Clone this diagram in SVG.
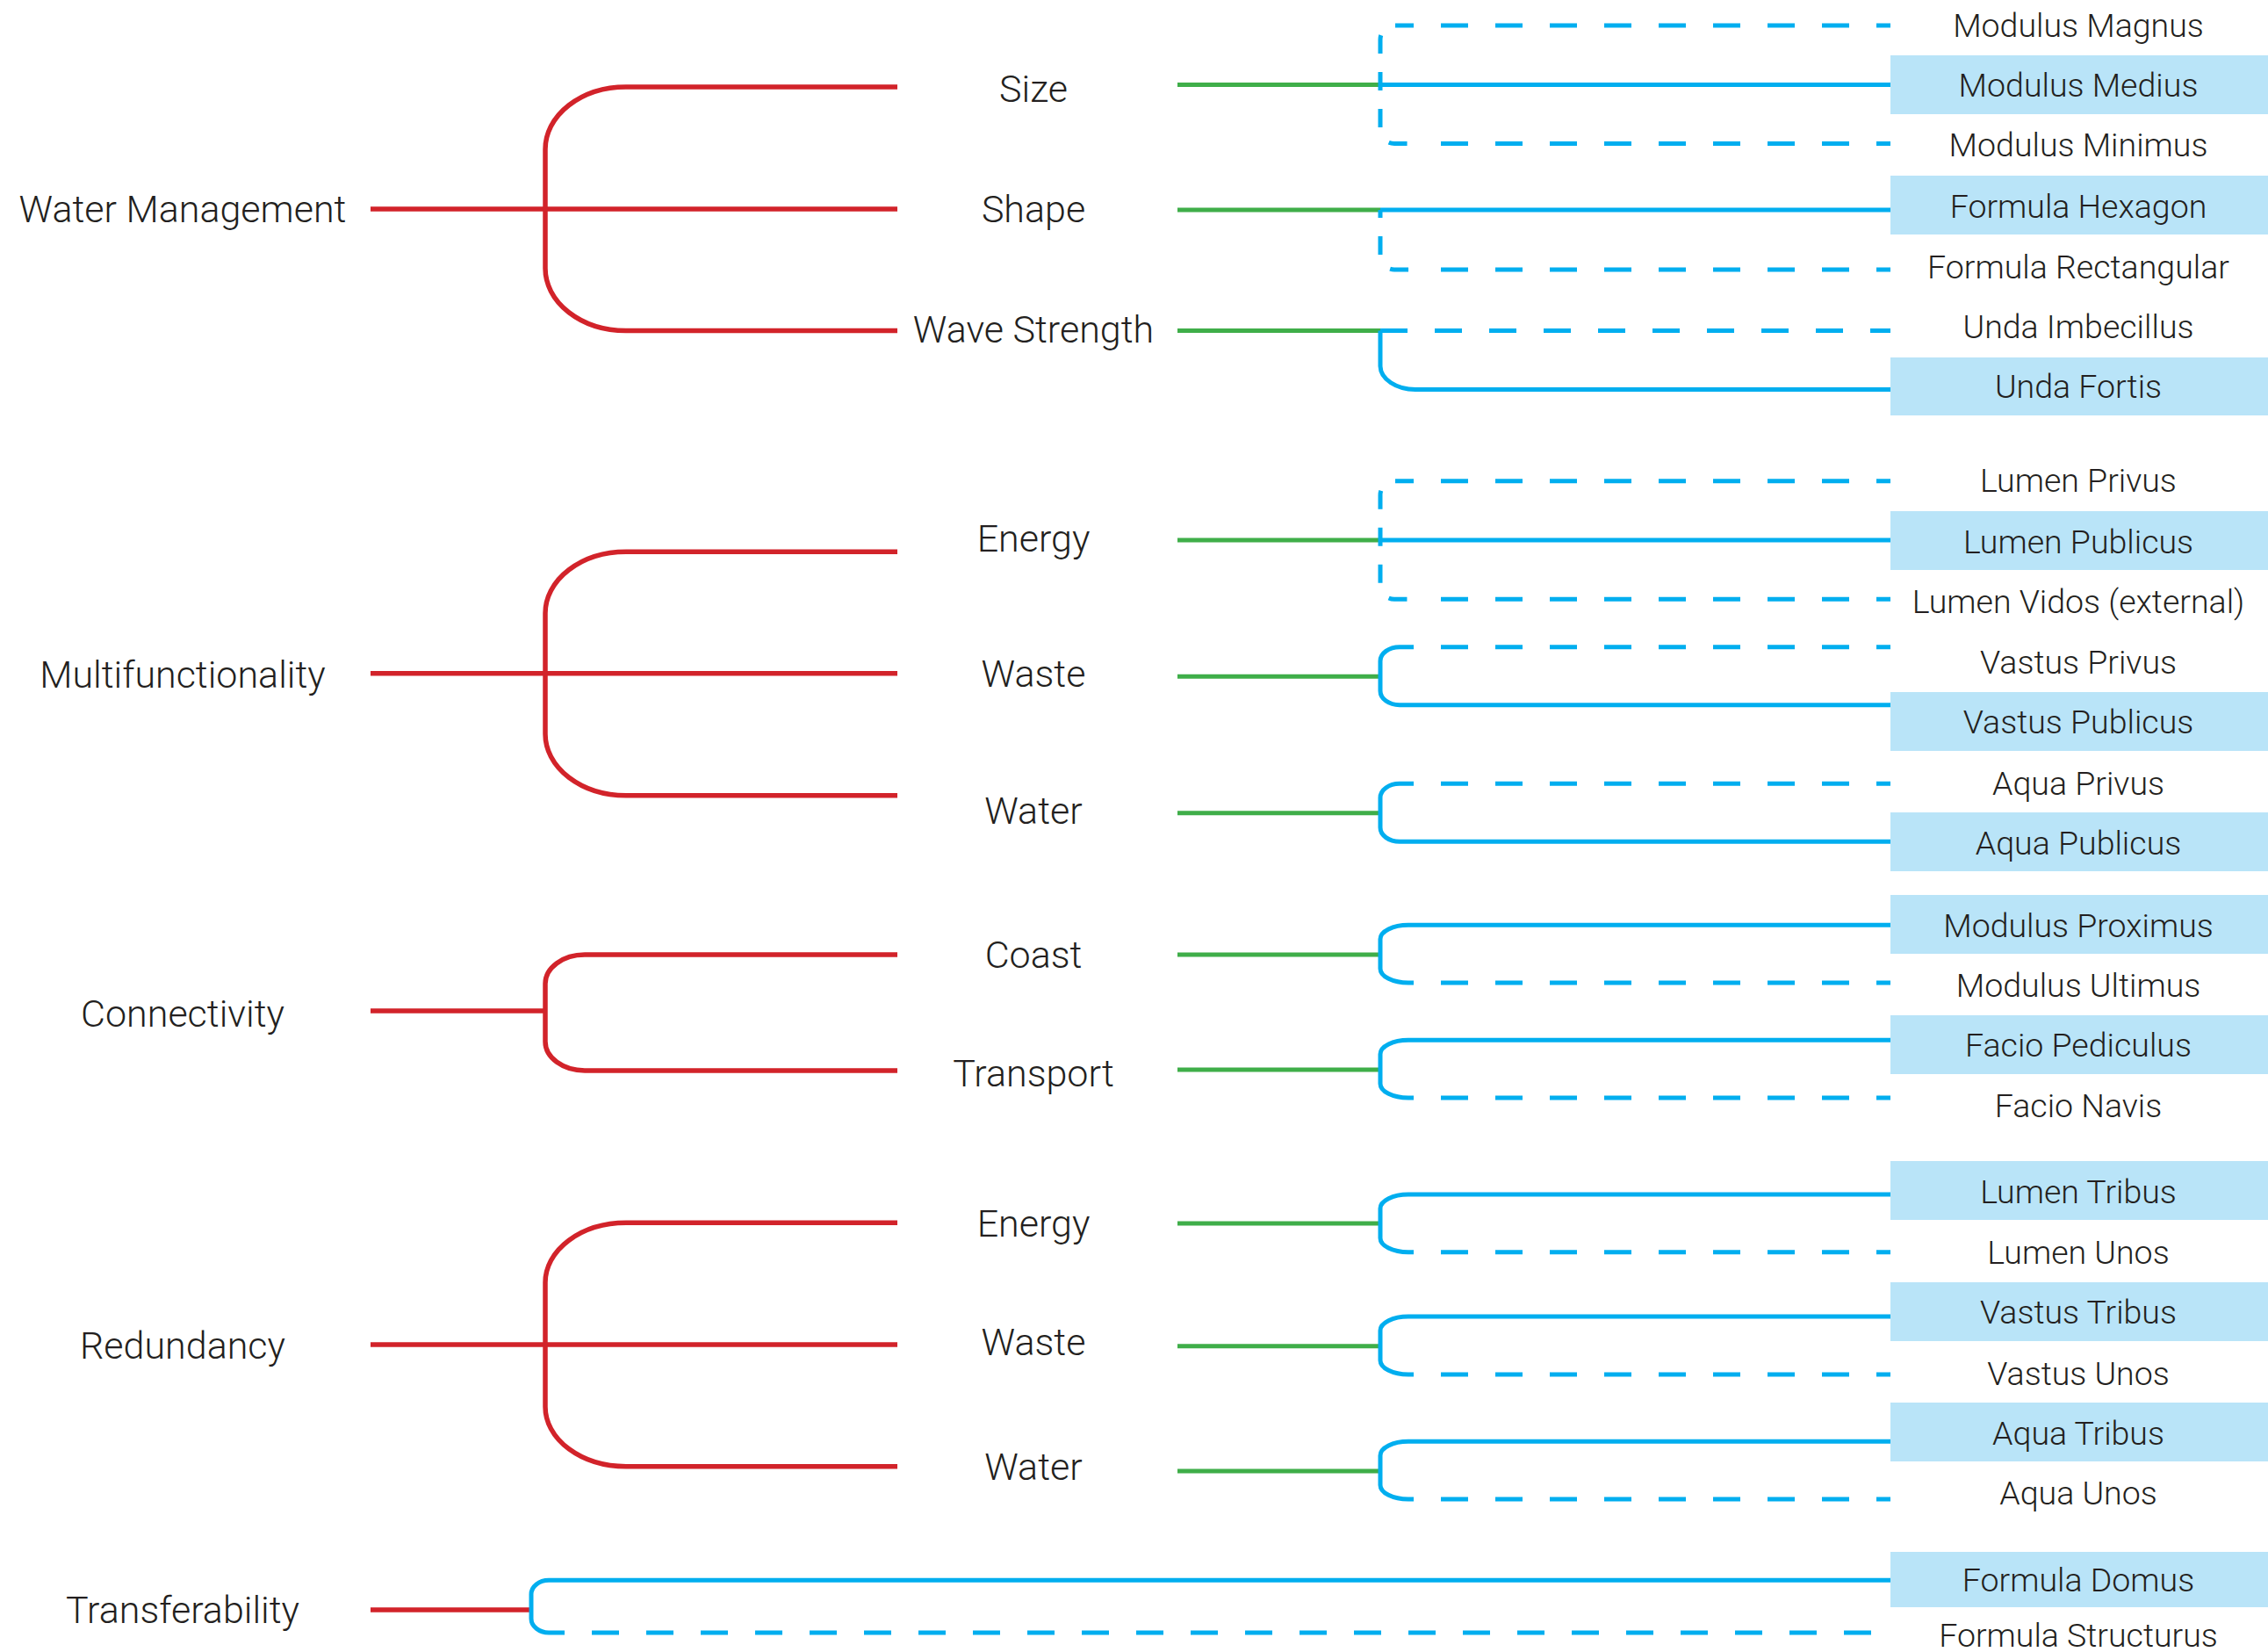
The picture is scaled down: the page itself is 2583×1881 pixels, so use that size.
<svg xmlns="http://www.w3.org/2000/svg" width="2583" height="1881" viewBox="0 0 2583 1881">
<style>
text{font-family:Roboto,"Liberation Sans",sans-serif;font-weight:300;fill:#231f20;text-anchor:middle}
.l1,.l2{font-size:43px}
.l3{font-size:37.5px}
.box{fill:#b9e4f8}
.red{fill:none;stroke:#d2232a;stroke-width:5.5}
.grn{fill:none;stroke:#3fae49;stroke-width:5}
.blu{fill:none;stroke:#00aeef;stroke-width:5}
.dsh{fill:none;stroke:#00aeef;stroke-width:5;stroke-dasharray:31 31;stroke-dashoffset:31}
.dv{fill:none;stroke:#00aeef;stroke-width:5;stroke-dasharray:21 21}
</style>
<rect width="2583" height="1881" fill="#ffffff"/>
<g id="connectors">
<!-- red -->
<path class="red" d="M422,238 H1022"/>
<path class="red" d="M1022,99 H713 A92,71 0 0 0 621,170 V305.5 A92,71 0 0 0 713,376.5 H1022"/>
<path class="red" d="M422,766.7 H1022"/>
<path class="red" d="M1022,628.3 H713 A92,70 0 0 0 621,698.3 V835.7 A92,70 0 0 0 713,905.7 H1022"/>
<path class="red" d="M422,1151 H621"/>
<path class="red" d="M1022,1087 H666 A45,33 0 0 0 621,1120 V1186 A45,33 0 0 0 666,1219 H1022"/>
<path class="red" d="M422,1531 H1022"/>
<path class="red" d="M1022,1392.3 H713 A92,68 0 0 0 621,1460.3 V1601.7 A92,68 0 0 0 713,1669.7 H1022"/>
<path class="red" d="M422,1833 H605"/>
<!-- green -->
<path class="grn" d="M1341,96.5 H1572"/>
<path class="grn" d="M1341,239 H1572"/>
<path class="grn" d="M1341,376.5 H1572"/>
<path class="grn" d="M1341,615 H1572"/>
<path class="grn" d="M1341,770.3 H1572"/>
<path class="grn" d="M1341,925.7 H1572"/>
<path class="grn" d="M1341,1087 H1572"/>
<path class="grn" d="M1341,1218 H1572"/>
<path class="grn" d="M1341,1393 H1572"/>
<path class="grn" d="M1341,1532.7 H1572"/>
<path class="grn" d="M1341,1675 H1572"/>
<!-- Size -->
<path class="dv" d="M1610,29 H1588 A16,16 0 0 0 1572,45 V147.5 A16,16 0 0 0 1588,163.5 H1610"/>
<path class="dsh" d="M1610,29 H2153"/>
<path class="blu" d="M1572,96.5 H2153"/>
<path class="dsh" d="M1610,163.5 H2153"/>
<!-- Shape -->
<path class="blu" d="M1572,239 H2153"/>
<path class="dv" style="stroke-dashoffset:12" d="M1572,239 V291 A16,16 0 0 0 1588,307 H1610"/>
<path class="dsh" d="M1610,307 H2153"/>
<!-- Wave Strength -->
<path class="dsh" style="stroke-dashoffset:0" d="M1572,376.5 H2153"/>
<path class="blu" d="M1572,376.5 V417 A40,27 0 0 0 1612,443.5 H2153"/>
<!-- Energy -->
<path class="dv" d="M1610,547.7 H1588 A16,16 0 0 0 1572,563.7 V666.3 A16,16 0 0 0 1588,682.3 H1610"/>
<path class="dsh" d="M1610,547.7 H2153"/>
<path class="blu" d="M1572,615 H2153"/>
<path class="dsh" d="M1610,682.3 H2153"/>
<!-- Waste -->
<path class="blu" d="M1610,736.7 H1594 A22,16 0 0 0 1572,752.7 V786.7 A22,16 0 0 0 1594,802.7 H2153"/>
<path class="dsh" d="M1610,736.7 H2153"/>
<!-- Water -->
<path class="blu" d="M1610,892.3 H1594 A22,16 0 0 0 1572,908.3 V942.3 A22,16 0 0 0 1594,958.3 H2153"/>
<path class="dsh" d="M1610,892.3 H2153"/>
<!-- Coast -->
<path class="blu" d="M2153,1053.3 H1604 A32,16 0 0 0 1572,1069.3 V1103 A32,16 0 0 0 1604,1119 H1610"/>
<path class="dsh" d="M1610,1119 H2153"/>
<!-- Transport -->
<path class="blu" d="M2153,1184.3 H1604 A32,16 0 0 0 1572,1200.3 V1234 A32,16 0 0 0 1604,1250 H1610"/>
<path class="dsh" d="M1610,1250 H2153"/>
<!-- Energy 2 -->
<path class="blu" d="M2153,1360 H1604 A32,16 0 0 0 1572,1376 V1409.7 A32,16 0 0 0 1604,1425.7 H1610"/>
<path class="dsh" d="M1610,1425.7 H2153"/>
<!-- Waste 2 -->
<path class="blu" d="M2153,1499 H1604 A32,16 0 0 0 1572,1515 V1549 A32,16 0 0 0 1604,1565 H1610"/>
<path class="dsh" d="M1610,1565 H2153"/>
<!-- Water 2 -->
<path class="blu" d="M2153,1641.3 H1604 A32,16 0 0 0 1572,1657.3 V1691 A32,16 0 0 0 1604,1707 H1610"/>
<path class="dsh" d="M1610,1707 H2153"/>
<!-- Transferability -->
<path class="blu" d="M2153,1799.3 H625 A20,16 0 0 0 605,1815.3 V1843 A20,16 0 0 0 625,1859 H643"/>
<path class="dsh" d="M643,1859 H2153"/>
</g>
<g id="n-water-management"><text class="l1" x="208" y="253">Water Management</text></g>
<g id="n-multifunctionality"><text class="l1" x="208" y="783">Multifunctionality</text></g>
<g id="n-connectivity"><text class="l1" x="208" y="1169">Connectivity</text></g>
<g id="n-redundancy"><text class="l1" x="208" y="1547">Redundancy</text></g>
<g id="n-transferability"><text class="l1" x="208" y="1848">Transferability</text></g>
<g id="n-size"><text class="l2" x="1177" y="115.5">Size</text></g>
<g id="n-shape"><text class="l2" x="1177" y="253">Shape</text></g>
<g id="n-wave-strength"><text class="l2" x="1177" y="390">Wave Strength</text></g>
<g id="n-energy-1"><text class="l2" x="1177" y="628">Energy</text></g>
<g id="n-waste-1"><text class="l2" x="1177" y="782">Waste</text></g>
<g id="n-water-1"><text class="l2" x="1177" y="937.5">Water</text></g>
<g id="n-coast"><text class="l2" x="1177" y="1101.5">Coast</text></g>
<g id="n-transport"><text class="l2" x="1177" y="1237">Transport</text></g>
<g id="n-energy-2"><text class="l2" x="1177" y="1408">Energy</text></g>
<g id="n-waste-2"><text class="l2" x="1177" y="1543">Waste</text></g>
<g id="n-water-2"><text class="l2" x="1177" y="1685">Water</text></g>
<g id="n-modulus-magnus"><text class="l3" x="2367" y="41.7">Modulus Magnus</text></g>
<g id="n-modulus-medius"><rect class="box" x="2153" y="63" width="430" height="67"/><text class="l3" x="2367" y="110">Modulus Medius</text></g>
<g id="n-modulus-minimus"><text class="l3" x="2367" y="178">Modulus Minimus</text></g>
<g id="n-formula-hexagon"><rect class="box" x="2153" y="200" width="430" height="67"/><text class="l3" x="2367" y="248">Formula Hexagon</text></g>
<g id="n-formula-rectangular"><text class="l3" x="2367" y="317">Formula Rectangular</text></g>
<g id="n-unda-imbecillus"><text class="l3" x="2367" y="385">Unda Imbecillus</text></g>
<g id="n-unda-fortis"><rect class="box" x="2153" y="407" width="430" height="66"/><text class="l3" x="2367" y="453">Unda Fortis</text></g>
<g id="n-lumen-privus"><text class="l3" x="2367" y="560">Lumen Privus</text></g>
<g id="n-lumen-publicus"><rect class="box" x="2153" y="582" width="430" height="67"/><text class="l3" x="2367" y="630">Lumen Publicus</text></g>
<g id="n-lumen-vidos"><text class="l3" x="2367" y="698">Lumen Vidos (external)</text></g>
<g id="n-vastus-privus"><text class="l3" x="2367" y="767">Vastus Privus</text></g>
<g id="n-vastus-publicus"><rect class="box" x="2153" y="788" width="430" height="67"/><text class="l3" x="2367" y="835">Vastus Publicus</text></g>
<g id="n-aqua-privus"><text class="l3" x="2367" y="905">Aqua Privus</text></g>
<g id="n-aqua-publicus"><rect class="box" x="2153" y="925" width="430" height="67"/><text class="l3" x="2367" y="973">Aqua Publicus</text></g>
<g id="n-modulus-proximus"><rect class="box" x="2153" y="1019" width="430" height="67"/><text class="l3" x="2367" y="1067">Modulus Proximus</text></g>
<g id="n-modulus-ultimus"><text class="l3" x="2367" y="1135">Modulus Ultimus</text></g>
<g id="n-facio-pediculus"><rect class="box" x="2153" y="1156" width="430" height="67"/><text class="l3" x="2367" y="1203">Facio Pediculus</text></g>
<g id="n-facio-navis"><text class="l3" x="2367" y="1272">Facio Navis</text></g>
<g id="n-lumen-tribus"><rect class="box" x="2153" y="1322" width="430" height="67"/><text class="l3" x="2367" y="1370">Lumen Tribus</text></g>
<g id="n-lumen-unos"><text class="l3" x="2367" y="1438.5">Lumen Unos</text></g>
<g id="n-vastus-tribus"><rect class="box" x="2153" y="1460" width="430" height="67"/><text class="l3" x="2367" y="1507">Vastus Tribus</text></g>
<g id="n-vastus-unos"><text class="l3" x="2367" y="1577">Vastus Unos</text></g>
<g id="n-aqua-tribus"><rect class="box" x="2153" y="1597" width="430" height="67"/><text class="l3" x="2367" y="1645">Aqua Tribus</text></g>
<g id="n-aqua-unos"><text class="l3" x="2367" y="1713">Aqua Unos</text></g>
<g id="n-formula-domus"><rect class="box" x="2153" y="1767" width="430" height="63"/><text class="l3" x="2367" y="1812">Formula Domus</text></g>
<g id="n-formula-structurus"><text class="l3" x="2367" y="1875">Formula Structurus</text></g>
</svg>
